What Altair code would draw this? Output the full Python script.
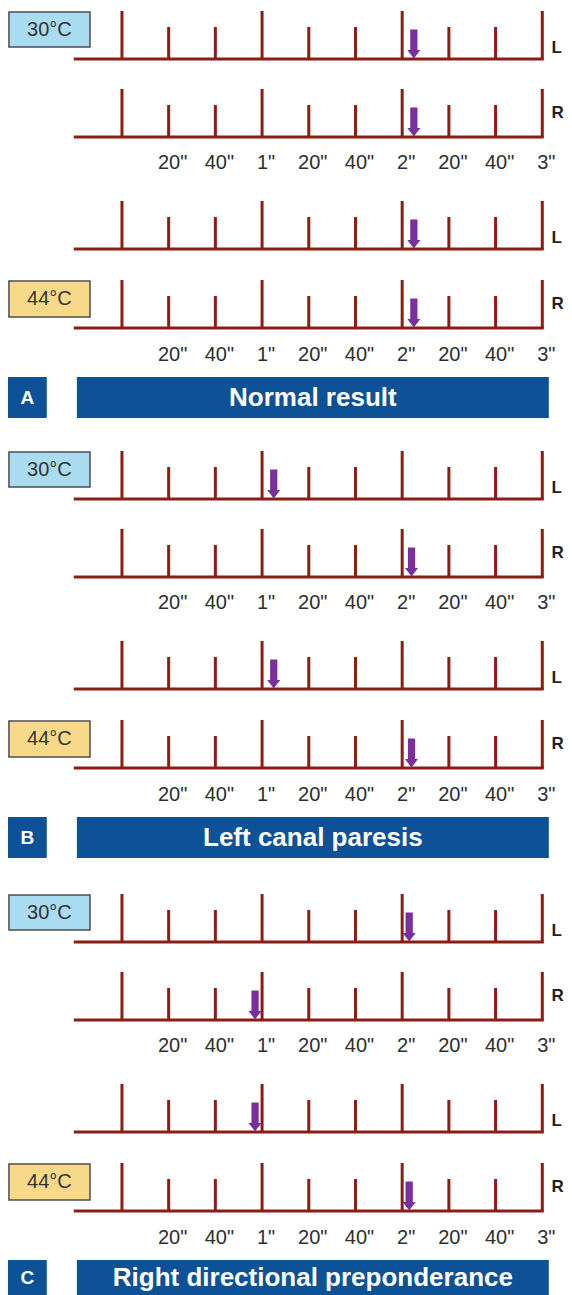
import altair as alt
import pandas as pd

# ---------------- data ----------------
PANELS = ["A", "B", "C"]
TITLES = ["Normal result", "Left canal paresis", "Right directional preponderance"]
ROW_SIDES = ["L", "R", "L", "R"]
ROW_TEMPS = ["30°C", "30°C", "44°C", "44°C"]
TICK_TIMES = [0, 20, 40, 60, 80, 100, 120, 140, 160, 180]          # seconds
TICK_KIND = ["major", "minor", "minor", "major", "minor", "minor",
             "major", "minor", "minor", "major"]
LABEL_TIMES = [20, 40, 60, 80, 100, 120, 140, 160, 180]
TICK_LABELS = ['20"', '40"', '1"', '20"', '40"', '2"', '20"', '40"', '3"']
TEMPS = ["30°C", "44°C"]
# arrow (nystagmus end) time, seconds, for rows L30, R30, L44, R44
ARROWS_A = [125, 125, 125, 125]
ARROWS_B = [65, 124, 65, 124]
ARROWS_C = [123, 57, 57, 123]
ARROWS = [ARROWS_A, ARROWS_B, ARROWS_C]

# ---------------- layout ----------------
X_MIN, X_MAX = -48.8, 189.3       # seconds shown across the width
Y_MIN, Y_MAX = 8, 1295            # vertical layout units (top -> bottom)
PANEL_TOP = [0, 440, 883]
ROW_BASE = [59, 137, 249, 328]
LABEL_ROW_Y = [163, 355]
TICK_H = {"major": 48, "minor": 32}
LINE_START, LINE_END = -20, 180
BOX_X = (-48.4, -13.7)
BOX_Y = [(12, 47), (281, 317)]
BOX_FILL = ["#a9dbf1", "#f8d98a"]
BANNER_Y = (377, 418)
LETTER_X = (-48.8, -32.2)
BANNER_X = (-19.3, 182.8)
SIDE_X = 184.0
SIDE_DY = {"L": -11, "R": -24}

TICK_COLOR = "#8c1c14"
ARROW_COLOR = "#7b2f9d"
BANNER_COLOR = "#0d5197"
TEXT_COLOR = "#2e2e2e"
FONT = "Liberation Sans"

ticks, lines, arrows, labels, sides = [], [], [], [], []
boxes, banners, letters = [], [], []
for p, panel in enumerate(PANELS):
    top = PANEL_TOP[p]
    for r in range(4):
        base = top + ROW_BASE[r]
        lines.append({"x0": LINE_START, "x1": LINE_END, "y": base})
        for t, k in zip(TICK_TIMES, TICK_KIND):
            ticks.append({"t": t, "y": base, "ytop": base - TICK_H[k]})
        arrows.append({"t": ARROWS[p][r], "y": base})
        sides.append({"x": SIDE_X, "y": base + SIDE_DY[ROW_SIDES[r]], "text": ROW_SIDES[r]})
    for ly in LABEL_ROW_Y:
        for t, s in zip(LABEL_TIMES, TICK_LABELS):
            labels.append({"t": t, "y": top + ly, "text": s})
    for i, temp in enumerate(TEMPS):
        y0, y1 = BOX_Y[i]
        boxes.append({"x0": BOX_X[0], "x1": BOX_X[1], "y0": top + y0, "y1": top + y1,
                      "xc": (BOX_X[0] + BOX_X[1]) / 2, "yc": top + (y0 + y1) / 2,
                      "text": temp, "fill": BOX_FILL[i]})
    y0, y1 = top + BANNER_Y[0], top + BANNER_Y[1]
    yc = min((y0 + y1) / 2, Y_MAX - 17)
    banners.append({"x0": BANNER_X[0], "x1": BANNER_X[1], "y0": y0, "y1": min(y1, Y_MAX),
                    "xc": (BANNER_X[0] + BANNER_X[1]) / 2, "yc": yc,
                    "text": TITLES[p]})
    letters.append({"x0": LETTER_X[0], "x1": LETTER_X[1], "y0": y0, "y1": min(y1, Y_MAX),
                    "xc": (LETTER_X[0] + LETTER_X[1]) / 2, "yc": yc,
                    "text": panel})

XS = alt.Scale(domain=[X_MIN, X_MAX], nice=False, zero=False)
YS = alt.Scale(domain=[Y_MIN, Y_MAX], nice=False, zero=False, reverse=True)


def X(f):
    return alt.X(f, type="quantitative", scale=XS, axis=None)


def Y(f):
    return alt.Y(f, type="quantitative", scale=YS, axis=None)


line_layer = alt.Chart(pd.DataFrame(lines)).mark_rule(
    color=TICK_COLOR, strokeWidth=3, strokeCap="square"
).encode(x=X("x0"), x2="x1", y=Y("y"))

tick_layer = alt.Chart(pd.DataFrame(ticks)).mark_rule(
    color=TICK_COLOR, strokeWidth=3
).encode(x=X("t"), y=Y("y"), y2="ytop")

ARROW_PATH = "M-0.25,-1 L0.25,-1 L0.25,0.42 L0.45,0.42 L0,1 L-0.45,0.42 L-0.25,0.42 Z"
arrow_layer = alt.Chart(pd.DataFrame(arrows)).mark_point(
    shape=ARROW_PATH, filled=True, color=ARROW_COLOR, opacity=1, size=841,
    strokeWidth=0, yOffset=-15
).encode(x=X("t"), y=Y("y"))

label_layer = alt.Chart(pd.DataFrame(labels)).mark_text(
    font=FONT, fontSize=20, color=TEXT_COLOR, align="center", baseline="middle", dx=4
).encode(x=X("t"), y=Y("y"), text="text:N")

side_layer = alt.Chart(pd.DataFrame(sides)).mark_text(
    font=FONT, fontSize=17, fontWeight="bold", color="#222222", align="left",
    baseline="middle"
).encode(x=X("x"), y=Y("y"), text="text:N")

box_layer = alt.Chart(pd.DataFrame(boxes)).mark_rect(
    stroke="#4d4d4d", strokeWidth=1.5
).encode(x=X("x0"), x2="x1", y=Y("y0"), y2="y1",
         fill=alt.Fill("fill:N", scale=None))

box_text = alt.Chart(pd.DataFrame(boxes)).mark_text(
    font=FONT, fontSize=20, color="#333333", align="center", baseline="middle"
).encode(x=X("xc"), y=Y("yc"), text="text:N")

banner_layer = alt.Chart(pd.DataFrame(banners + letters)).mark_rect(
    color=BANNER_COLOR
).encode(x=X("x0"), x2="x1", y=Y("y0"), y2="y1")

banner_text = alt.Chart(pd.DataFrame(banners)).mark_text(
    font=FONT, fontSize=26, fontWeight="bold", color="white", align="center",
    baseline="middle"
).encode(x=X("xc"), y=Y("yc"), text="text:N")

letter_text = alt.Chart(pd.DataFrame(letters)).mark_text(
    font=FONT, fontSize=19, fontWeight="bold", color="white", align="center",
    baseline="middle"
).encode(x=X("xc"), y=Y("yc"), text="text:N")

chart = alt.layer(
    banner_layer, banner_text, letter_text, box_layer, box_text,
    tick_layer, line_layer, arrow_layer, label_layer, side_layer
).properties(
    width=556, height=1287, padding=0,
    autosize=alt.AutoSizeParams(type="none"),
    background="white"
).configure_view(stroke=None)

chart.save("out.html", embed_options={"renderer": "svg", "actions": False})
